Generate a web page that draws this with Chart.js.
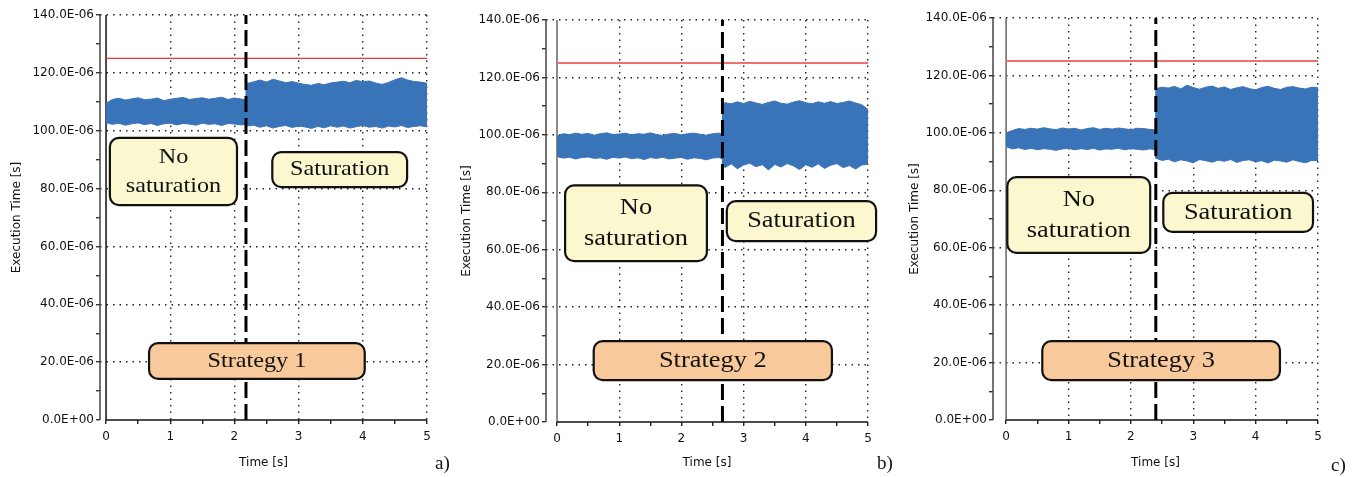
<!DOCTYPE html>
<html>
<head>
<meta charset="utf-8">
<script src="https://cdn.jsdelivr.net/npm/chart.js@4.4.1/dist/chart.umd.min.js"></script>
<style>
  html, body { margin: 0; padding: 0; background: #fff; }
  body { width: 1359px; height: 477px; position: relative; overflow: hidden; }
  .panel { position: absolute; top: 0; height: 477px; }
  .sub { position: absolute; font-family: "Liberation Serif", serif; font-size: 19px; color: #111; line-height: 1; }
</style>
</head>
<body>
<div class="panel" style="left:0;width:450px"><canvas id="chartA" width="450" height="477"></canvas></div>
<div class="panel" style="left:450px;width:450px"><canvas id="chartB" width="450" height="477"></canvas></div>
<div class="panel" style="left:900px;width:459px"><canvas id="chartC" width="459" height="477"></canvas></div>
<div class="sub" style="left:435px;top:453px">a)</div>
<div class="sub" style="left:877px;top:453px">b)</div>
<div class="sub" style="left:1331px;top:455px">c)</div>
<script>
// --- Axis data (execution time in microseconds, time in seconds) ---
const yTicks = [0, 20, 40, 60, 80, 100, 120, 140];
const yTickLabels = ['0.0E+00', '20.0E-06', '40.0E-06', '60.0E-06', '80.0E-06', '100.0E-06', '120.0E-06', '140.0E-06'];
const xTicks = [0, 1, 2, 3, 4, 5];
const xTickLabels = ['0', '1', '2', '3', '4', '5'];
const deadline = 125; // red limit line
const switchTimes = [2.18, 2.66, 2.40]; // dashed line: start of saturation

// --- Strategy 1: upper / lower envelope of the execution time band ---
const timesA = [0, 0.1, 0.2, 0.3, 0.4, 0.5, 0.6, 0.7, 0.8, 0.9, 1.0, 1.1, 1.2, 1.3, 1.4, 1.5, 1.6, 1.7, 1.8, 1.9, 2.0, 2.1, 2.18,
  2.18, 2.3, 2.4, 2.5, 2.6, 2.7, 2.8, 2.9, 3.0, 3.1, 3.2, 3.3, 3.4, 3.5, 3.6, 3.7, 3.8, 3.9, 4.0, 4.1, 4.2, 4.3, 4.4, 4.5, 4.6, 4.7, 4.8, 4.9, 5.0];
const upperA = [109.5, 110.8, 111.2, 110.6, 111.0, 111.4, 110.7, 110.9, 111.3, 110.4, 110.9, 111.2, 111.5, 110.8, 111.1, 111.4, 110.9, 111.2, 111.6, 110.8, 111.3, 111.0, 110.6,
  116.2, 116.9, 117.5, 116.8, 117.8, 117.2, 116.6, 117.0, 116.4, 116.0, 115.7, 116.3, 115.9, 116.5, 116.8, 117.1, 116.6, 117.4, 116.9, 117.2, 116.5, 116.0, 116.7, 117.6, 118.3, 117.5, 117.0, 116.8, 116.4];
const lowerA = [102.8, 102.2, 102.6, 101.9, 102.4, 102.7, 102.1, 102.5, 101.8, 102.4, 102.6, 102.0, 102.5, 102.3, 101.9, 102.6, 102.2, 102.4, 101.8, 102.5, 102.3, 102.0, 102.2,
  101.6, 101.9, 101.2, 101.7, 100.9, 101.5, 101.8, 101.1, 101.6, 101.3, 100.8, 101.5, 101.0, 101.7, 101.2, 101.6, 100.9, 101.4, 101.8, 101.2, 101.5, 100.9, 101.6, 101.3, 101.8, 101.1, 101.5, 101.7, 101.3];

// --- Strategy 2 ---
const timesB = [0, 0.1, 0.2, 0.3, 0.4, 0.5, 0.6, 0.7, 0.8, 0.9, 1.0, 1.1, 1.2, 1.3, 1.4, 1.5, 1.6, 1.7, 1.8, 1.9, 2.0, 2.1, 2.2, 2.3, 2.4, 2.5, 2.6, 2.66,
  2.66, 2.7, 2.8, 2.9, 3.0, 3.1, 3.2, 3.3, 3.4, 3.5, 3.6, 3.7, 3.8, 3.9, 4.0, 4.1, 4.2, 4.3, 4.4, 4.5, 4.6, 4.7, 4.8, 4.9, 5.0];
const upperB = [99.6, 100.4, 100.1, 100.6, 100.2, 100.5, 99.9, 100.4, 100.7, 100.1, 100.3, 100.6, 100.0, 100.4, 100.2, 100.7, 100.1, 99.8, 100.3, 100.5, 100.0, 100.4, 100.6, 100.2, 99.9, 100.4, 100.6, 100.3,
  110.6, 111.2, 110.8, 111.5, 110.9, 111.7, 111.1, 110.6, 111.3, 111.8, 111.0, 110.7, 111.4, 111.9, 111.2, 110.8, 111.5, 111.0, 111.6, 110.9, 111.3, 111.8, 111.1, 110.5, 108.8];
const lowerB = [92.4, 91.9, 92.2, 91.6, 92.1, 92.3, 91.8, 92.0, 91.5, 92.2, 91.9, 92.3, 91.7, 92.0, 91.4, 92.1, 91.8, 92.2, 91.6, 91.9, 92.1, 91.5, 92.0, 91.8, 91.3, 91.9, 92.1, 91.7,
  89.8, 88.6, 89.9, 88.2, 89.5, 90.1, 88.9, 89.6, 87.8, 89.7, 88.8, 90.0, 89.2, 87.9, 89.6, 88.7, 89.9, 88.3, 89.4, 90.0, 88.6, 89.3, 88.1, 89.5, 89.8];

// --- Strategy 3 ---
const timesC = [0, 0.1, 0.2, 0.3, 0.4, 0.5, 0.6, 0.7, 0.8, 0.9, 1.0, 1.1, 1.2, 1.3, 1.4, 1.5, 1.6, 1.7, 1.8, 1.9, 2.0, 2.1, 2.2, 2.3, 2.4,
  2.4, 2.5, 2.6, 2.7, 2.8, 2.9, 3.0, 3.1, 3.2, 3.3, 3.4, 3.5, 3.6, 3.7, 3.8, 3.9, 4.0, 4.1, 4.2, 4.3, 4.4, 4.5, 4.6, 4.7, 4.8, 4.9, 5.0];
const upperC = [100.0, 100.8, 101.5, 101.2, 101.6, 101.3, 101.8, 101.4, 101.1, 101.7, 101.3, 101.6, 101.0, 101.5, 101.8, 101.2, 101.6, 101.3, 101.7, 101.4, 101.1, 101.6, 101.5, 101.2, 101.0,
  115.4, 115.9, 115.6, 116.2, 115.3, 116.6, 115.8, 115.2, 115.9, 116.3, 115.5, 116.0, 115.1, 115.7, 116.1, 115.4, 115.0, 115.8, 116.2, 115.5, 115.1, 115.9, 116.1, 115.6, 115.3, 115.9, 115.7];
const lowerC = [95.2, 94.4, 94.8, 94.2, 94.6, 94.1, 94.5, 94.3, 93.9, 94.4, 94.6, 94.1, 94.5, 94.2, 94.6, 94.0, 94.4, 94.3, 94.6, 94.1, 94.5, 94.3, 94.0, 94.4, 94.2,
  91.2, 90.4, 90.8, 89.9, 90.6, 90.2, 89.6, 90.7, 90.3, 89.8, 90.5, 90.1, 90.7, 89.7, 90.4, 90.6, 89.9, 90.3, 89.5, 90.5, 90.2, 89.8, 90.6, 90.0, 89.6, 90.4, 90.3];

const blue = '#3973b8';
const yellow = '#fbf7cf';
const orange = '#f8c99b';
const axisFont = { family: 'DejaVu Sans', size: 12 };
const textColor = '#111';

// minor ticks every 0.5 s / 10 us, labels only on the major ones
const xAllTicks = [];
for (let v = 0; v <= 5; v += 0.5) xAllTicks.push(v);
const yAllTicks = [];
for (let v = 0; v <= 140; v += 10) yAllTicks.push(v);

function pts(times, vals) {
  return times.map((t, i) => ({ x: t, y: vals[i] }));
}

// axis lines, t = 0 line and the text boxes
function decor(p) {
  return {
    id: 'decor',
    beforeDatasetsDraw(chart) {
      const { ctx, chartArea, scales: { x, y } } = chart;
      const x0 = x.getPixelForValue(0);
      ctx.save();
      ctx.lineWidth = 1.5;
      ctx.strokeStyle = '#444';
      ctx.beginPath();
      ctx.moveTo(chartArea.left, y.getPixelForValue(140));
      ctx.lineTo(chartArea.left, y.getPixelForValue(0));
      ctx.stroke();
      ctx.strokeStyle = p.zeroColor;
      ctx.beginPath();
      ctx.moveTo(x0, chartArea.top);
      ctx.lineTo(x0, chartArea.bottom);
      ctx.stroke();
      ctx.strokeStyle = '#111';
      ctx.beginPath();
      ctx.moveTo(x0, chartArea.bottom);
      ctx.lineTo(x.getPixelForValue(5), chartArea.bottom);
      ctx.stroke();
      ctx.restore();
    },
    afterDatasetsDraw(chart) {
      const { ctx, scales: { x, y } } = chart;
      p.notes.forEach((n) => {
        const l = x.getPixelForValue(n.x0), r = x.getPixelForValue(n.x1);
        const t = y.getPixelForValue(n.y1), b = y.getPixelForValue(n.y0);
        ctx.save();
        ctx.beginPath();
        ctx.roundRect(l, t, r - l, b - t, 9);
        ctx.fillStyle = n.fill;
        ctx.fill();
        ctx.lineWidth = 2.2;
        ctx.strokeStyle = '#111';
        ctx.stroke();
        ctx.fillStyle = '#111';
        ctx.font = p.noteSize + 'px "Liberation Serif"';
        ctx.textAlign = 'center';
        ctx.textBaseline = 'middle';
        const lh = p.noteSize * 1.3;
        const cx = (l + r) / 2, cy = (t + b) / 2;
        n.text.forEach((line, i) => {
          ctx.save();
          ctx.translate(cx, cy + (i - (n.text.length - 1) / 2) * lh);
          ctx.scale(1.1, 1); // reference text is slightly stretched
          ctx.fillText(line, 0, 0);
          ctx.restore();
        });
        ctx.restore();
      });
    }
  };
}

function makePanel(id, p) {
  new Chart(document.getElementById(id), {
    type: 'line',
    data: {
      datasets: [
        { data: pts(p.times, p.upper), borderColor: blue, backgroundColor: blue, borderWidth: 1, fill: '+1', order: 3 },
        { data: pts(p.times, p.lower), borderColor: blue, borderWidth: 1, fill: false, order: 2 },
        { data: [{ x: 0, y: deadline }, { x: 5, y: deadline }], borderColor: p.red, borderWidth: p.redWidth, fill: false, order: 1 },
        { data: [{ x: p.sw, y: 0 }, { x: p.sw, y: 140 }], borderColor: '#000', borderWidth: 3, borderDash: [16, 6], fill: false, order: 0 }
      ]
    },
    options: {
      responsive: false,
      animation: false,
      events: [],
      layout: { padding: { left: 0, right: p.padRight, top: p.padTop, bottom: 0 } },
      elements: { point: { radius: 0 }, line: { tension: 0 } },
      plugins: { legend: { display: false }, tooltip: { enabled: false } },
      scales: {
        x: {
          type: 'linear',
          min: p.xMin,
          max: 5,
          afterBuildTicks: (s) => { s.ticks = xAllTicks.map((v) => ({ value: v })); },
          afterFit: (s) => { s.height = p.xHeight; },
          ticks: {
            autoSkip: false,
            maxRotation: 0,
            padding: 6,
            font: axisFont,
            color: textColor,
            callback: (v) => { const i = xTicks.indexOf(v); return i >= 0 ? xTickLabels[i] : ''; }
          },
          grid: {
            color: (c) => (c.tick && c.tick.value > 0 && xTicks.includes(c.tick.value)) ? '#222' : 'rgba(0,0,0,0)',
            lineWidth: 1.4,
            tickColor: '#222',
            tickLength: 4,
            tickWidth: 1.4
          },
          border: { display: false, dash: [1.5, 5] },
          title: { display: true, text: 'Time [s]', font: axisFont, color: textColor, padding: { top: 0, bottom: 7 } }
        },
        y: {
          min: 0,
          max: 140,
          afterBuildTicks: (s) => { s.ticks = yAllTicks.map((v) => ({ value: v })); },
          afterFit: (s) => { s.width = p.yWidth; },
          ticks: {
            autoSkip: false,
            padding: 2,
            font: axisFont,
            color: textColor,
            callback: (v) => { const i = yTicks.indexOf(v); return i >= 0 ? yTickLabels[i] : ''; }
          },
          grid: {
            color: (c) => (c.tick && c.tick.value > 0 && yTicks.includes(c.tick.value)) ? '#222' : 'rgba(0,0,0,0)',
            lineWidth: 1.4,
            tickColor: '#333',
            tickLength: 4,
            tickWidth: 1.4
          },
          border: { display: false, dash: [1.5, 5] },
          title: { display: true, text: 'Execution Time [s]', font: axisFont, color: textColor, padding: { top: p.titlePad, bottom: 0 } }
        }
      }
    },
    plugins: [decor(p)]
  });
}

makePanel('chartA', {
  times: timesA, upper: upperA, lower: lowerA, sw: switchTimes[0],
  xMin: -0.094, yWidth: 100, padRight: 23, padTop: 15, xHeight: 57, titlePad: 10,
  zeroColor: '#111', red: '#e53935', redWidth: 1.3, noteSize: 22,
  notes: [
    { x0: 0.06, x1: 2.04, y0: 74.3, y1: 97.5, fill: yellow, text: ['No', 'saturation'] },
    { x0: 2.59, x1: 4.69, y0: 80.5, y1: 92.6, fill: yellow, text: ['Saturation'] },
    { x0: 0.67, x1: 4.03, y0: 14.2, y1: 26.6, fill: orange, text: ['Strategy 1'] }
  ]
});

makePanel('chartB', {
  times: timesB, upper: upperB, lower: lowerB, sw: switchTimes[1],
  xMin: -0.177, yWidth: 96, padRight: 32, padTop: 20, xHeight: 55, titlePad: 10,
  zeroColor: '#666', red: '#f07070', redWidth: 2, noteSize: 24,
  notes: [
    { x0: 0.13, x1: 2.41, y0: 56.0, y1: 82.4, fill: yellow, text: ['No', 'saturation'] },
    { x0: 2.73, x1: 5.13, y0: 63.0, y1: 76.9, fill: yellow, text: ['Saturation'] },
    { x0: 0.59, x1: 4.42, y0: 14.6, y1: 28.2, fill: orange, text: ['Strategy 2'] }
  ]
});

makePanel('chartC', {
  times: timesC, upper: upperC, lower: lowerC, sw: switchTimes[2],
  xMin: -0.21, yWidth: 93, padRight: 41, padTop: 18, xHeight: 57, titlePad: 8,
  zeroColor: '#666', red: '#f07070', redWidth: 2, noteSize: 24,
  notes: [
    { x0: 0.02, x1: 2.31, y0: 58.2, y1: 84.6, fill: yellow, text: ['No', 'saturation'] },
    { x0: 2.52, x1: 4.92, y0: 65.5, y1: 79.1, fill: yellow, text: ['Saturation'] },
    { x0: 0.58, x1: 4.39, y0: 13.9, y1: 27.5, fill: orange, text: ['Strategy 3'] }
  ]
});
</script>
</body>
</html>
